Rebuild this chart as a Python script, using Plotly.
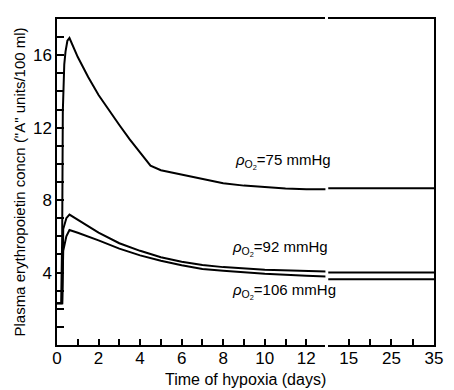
import plotly.graph_objects as go

# ---- data ----
days_left = [0, 0.2, 0.25, 0.28, 0.35, 0.41, 0.5, 0.6, 1.0, 1.5, 2.0, 2.5, 3.0, 3.5, 4.0, 4.5,
             5.0, 6.0, 7.0, 8.0, 9.0, 10.0, 11.0, 12.0, 13.0]
conc_75 = [2.3, 2.3, 6.0, 12.9, 15.5, 16.2, 16.8, 16.95, 15.9, 14.8, 13.8, 12.95, 12.15, 11.35, 10.6, 9.9,
           9.65, 9.4, 9.15, 8.93, 8.8, 8.7, 8.64, 8.6, 8.6]

days_left_b = [0, 0.2, 0.25, 0.3, 0.45, 0.6, 1.0, 2.0, 3.0, 4.0, 5.0, 6.0, 7.0, 8.0, 10.0, 12.0, 13.0]
conc_92 = [2.3, 2.3, 2.3, 6.4, 7.0, 7.2, 6.9, 6.2, 5.62, 5.2, 4.85, 4.6, 4.42, 4.3, 4.16, 4.08, 4.05]
conc_106 = [2.3, 2.3, 2.3, 5.2, 6.0, 6.35, 6.2, 5.78, 5.32, 4.95, 4.65, 4.4, 4.2, 4.1, 3.93, 3.82, 3.78]

days_right = [10.0, 35.0]
right_75 = [8.65, 8.65]
right_92 = [4.0, 4.0]
right_106 = [3.63, 3.63]

left_ticks = [0, 2, 4, 6, 8, 10, 12]
left_minor = [1, 3, 5, 7, 9, 11]
right_ticks = [15, 25, 35]
right_minor = [20, 30]
y_ticks = [4, 8, 12, 16]
y_minor = [1, 2, 3, 5, 6, 7, 9, 10, 11, 13, 14, 15, 17]

labels = [
    ("<i>ρ</i><sub>O<sub>2</sub></sub>=75 mmHg", 8.45, 10.15),
    ("<i>ρ</i><sub>O<sub>2</sub></sub>=92 mmHg", 8.35, 5.35),
    ("<i>ρ</i><sub>O<sub>2</sub></sub>=106 mmHg", 8.35, 2.95),
]

FONT = "Liberation Sans, Arial, sans-serif"
line = dict(color="black", width=2)

fig = go.Figure()
fig.add_trace(go.Scatter(x=days_left, y=conc_75, mode="lines", line=line, xaxis="x", yaxis="y"))
fig.add_trace(go.Scatter(x=days_left_b, y=conc_92, mode="lines", line=line, xaxis="x", yaxis="y"))
fig.add_trace(go.Scatter(x=days_left_b, y=conc_106, mode="lines", line=line, xaxis="x", yaxis="y"))
for vals in (right_75, right_92, right_106):
    fig.add_trace(go.Scatter(x=days_right, y=vals, mode="lines", line=line, xaxis="x2", yaxis="y2"))

axis_common = dict(showline=True, linecolor="black", linewidth=1.5, ticks="inside",
                   tickcolor="black", tickwidth=1.5, showgrid=False, zeroline=False,
                   tickfont=dict(family=FONT, size=17, color="black"))

def minor(vals, length):
    return dict(tickmode="array", tickvals=vals, ticks="inside", ticklen=length,
                tickcolor="black", tickwidth=1.5, showgrid=False)

fig.update_layout(
    width=454, height=390,
    margin=dict(l=57, r=11, t=19, b=45),
    paper_bgcolor="white", plot_bgcolor="white",
    showlegend=False,
    xaxis=dict(domain=[0, 0.712], range=[0, 12.92], tickmode="array",
               tickvals=left_ticks, ticklen=6, minor=minor(left_minor, 6),
               ticklabelstandoff=-3,
               mirror=True, anchor="y", **axis_common),
    xaxis2=dict(domain=[0.7195, 1], range=[10.17, 35], tickmode="array",
                tickvals=right_ticks, ticklen=6, minor=minor(right_minor, 6),
                ticklabelstandoff=-3,
                mirror=True, anchor="y2", **axis_common),
    yaxis=dict(range=[0, 18], tickmode="array", tickvals=y_ticks,
               ticklen=7, minor=minor(y_minor, 7), anchor="x", **axis_common,
               title=dict(text='Plasma erythropoietin concn ("A" units/100 ml)',
                          font=dict(family=FONT, size=15, color="black"), standoff=4)),
    yaxis2=dict(range=[0, 18], anchor="x2", side="right", showline=True, linecolor="black",
                linewidth=1.5, showticklabels=False, ticks="", showgrid=False, zeroline=False),
    annotations=[dict(text="Time of hypoxia (days)", xref="paper", yref="paper",
                      x=0.5, y=-0.107, xanchor="center", yanchor="middle", showarrow=False,
                      font=dict(family=FONT, size=16, color="black"))]
    + [dict(text=t, x=x, y=y, xref="x", yref="y", xanchor="left", yanchor="middle",
            showarrow=False, font=dict(family=FONT, size=15, color="black"))
       for t, x, y in labels],
)

fig.write_html("out.html")
